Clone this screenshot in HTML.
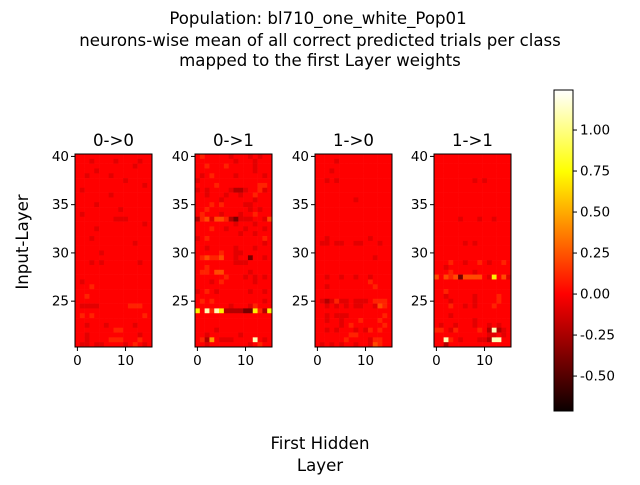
<!DOCTYPE html>
<html><head><meta charset="utf-8"><style>
body{margin:0;background:#fff;}
svg text{font-family:"DejaVu Sans","Liberation Sans",sans-serif;fill:#000;}
</style></head><body>
<svg id="fig" width="640" height="480" xmlns="http://www.w3.org/2000/svg">
<defs><linearGradient id="hot" x1="0" y1="1" x2="0" y2="0">
<stop offset="0" stop-color="#0b0000"/><stop offset="0.365" stop-color="#ff0000"/>
<stop offset="0.746" stop-color="#ffff00"/><stop offset="1" stop-color="#ffffff"/></linearGradient></defs>
<g font-size="16.6" text-anchor="middle">
<text x="318" y="24">Population: bl710_one_white_Pop01</text>
<text x="320" y="46">neurons-wise mean of all correct predicted trials per class</text>
<text x="320" y="66">mapped to the first Layer weights</text>
</g>
<text font-size="16.6" text-anchor="middle" transform="translate(28,242) rotate(-90)">Input-Layer</text>
<g font-size="16.6" text-anchor="middle">
<text x="320" y="449">First Hidden</text><text x="320" y="471">Layer</text></g>
<g id="panels"></g>
<g id="cbar"></g>
</svg>
<script>
const panelTitles=["0->0","0->1","1->0","1->1"];
const levelValues=[-0.6,-0.4,-0.22,-0.08,0,0.1,0.22,0.45,0.7,1.1];
const xTicks=[0,10];
const yTicks=[40,35,30,25];
const cbarTicks=[1.00,0.75,0.50,0.25,0.00,-0.25,-0.50];
const dataA=["4444444444444444","4443444434444344","4444444444443444","4444344444444444","4434444344444444","4444444444344444","4444444444444434","4344444444444444","4444444344444444","4444444444444444","4444344444444444","4444444443444444","4344444444444444","4444444433344444","4444444444444434","4444344444444444","4444444444444444","4443444444444444","4444444444443444","4444444444444444","4444434444444444","4444444444444444","4443434444444344","4444444444444444","4444444444444444","4444444444444444","4344444444444444","4445444444444444","4444444444444444","4454444444444444","4444444444444444","4333344444455544","4444444444444444","4545444444444454","4444444444444444","4434443444443444","4444444455444444","4434444444444344","4434444555444544","4334334444345434"];
const dataB=["4544444344434344","4444444434443444","4454445444443444","4444444444443444","4345444434444434","3444444444444444","4444544444444554","3434444322344534","4434443443445444","4444434444443444","4445454444334444","4454444444434344","4544434443445444","2563665213334436","4444444434443444","4445443444344434","4444444443443444","3454444444444454","4444444444444434","4434444434443444","4444454433444444","4565564434414434","4444444433344444","4454444444444444","4554664444434444","4444445444343434","4443454444443444","4444444444444444","3454344444434434","4444444444444444","4545444444444434","4444444344435444","8495982222118528","4444444444444444","4444444444444444","4444444444444444","4444344444444444","4434444443444444","4527433344449434","4434444444434544"];
const dataC=["4444444444444444","4444344444444444","4444444444444444","4443444444444444","4444444444444444","4434344444444444","4444444444444444","4444444444444444","4444444444444444","4444444434444444","4444444444444444","4444444444444444","4444444444444444","4444444444444444","4444444444444444","4444444444444444","4444444444444444","4434444444434444","4334334433444344","4444444444444444","4444444444444444","4444444444443444","4444444444444444","4444444444444444","4444444444444444","4434434434434444","4444444444454444","4434444444445444","4444444444444444","4444444444444444","4323533433345554","4434343433443654","4444444444444444","4434333444444454","4434434445444544","4444434544444454","4434344434354544","4444444554444444","4444445444435544","4343434434436544"];
const dataD=["4444444444444444","4444444444444444","4444444444444444","4444444444444444","4444444444444444","4444444434344444","4444444444444444","4444444444444444","4444444444444444","4444444444444444","4444444444444444","4444444444444444","4444444444444444","4444434443443444","4444444444444444","4444444444444444","4444444444444444","4444444444444444","4444443434444444","4444444444444444","4444444444444444","4444444444444444","4445443445434454","4434444444444444","4445444434444444","6465616666438463","4444444444444444","4444444444444444","4454444444444444","4434444434444544","4443444434444544","4445443434445444","4444444444444444","4443444444444444","4444444434444444","4344344434434344","5543544445429234","4444444444433434","4495434443329944","4424444444444444"];
const allData=[dataA,dataB,dataC,dataD];
const panelLeft=[75,195,315,434], panelW=77, topY=154, bottomY=347;
const vmin=-0.713, vmax=1.244;
function hot(v){let t=(v-vmin)/(vmax-vmin);t=Math.max(0,Math.min(1,t));
 let r=Math.min(1,t/0.365),g=Math.max(0,Math.min(1,(t-0.365)/0.381)),b=Math.max(0,(t-0.746)/0.254);
 r=0.0416+(1-0.0416)*r;return `rgb(${Math.round(r*255)},${Math.round(g*255)},${Math.round(Math.min(1,b)*255)})`;}
const ns="http://www.w3.org/2000/svg";
function mk(tag,attrs,parent){const e=document.createElementNS(ns,tag);for(const k in attrs)e.setAttribute(k,attrs[k]);parent.appendChild(e);return e;}
const ymin=20.25,ymax=40.25;
function yS(v){return bottomY-(v-ymin)/(ymax-ymin)*(bottomY-topY);}
const P=document.getElementById('panels');
allData.forEach((rows,p)=>{
 const L=panelLeft[p];const xS=v=>L+(v+0.5)/16*panelW;
 const g=mk('g',{},P);
 
 
 rows.forEach((row,ri)=>{const yv=ymax-ri*0.5;
  for(let c=0;c<16;c++){const v=levelValues[+row[c]];
   const r=mk('rect',{x:xS(c-0.5),y:yS(yv),width:xS(c+0.5)-xS(c-0.5)+0.3,height:yS(yv-0.5)-yS(yv)+0.3,fill:hot(v)},g);
   
   }});
 mk('rect',{x:L,y:topY,width:panelW,height:bottomY-topY,fill:'none',stroke:'#000','stroke-width':1},g);
 const t=mk('text',{x:L+panelW/2,y:146,'font-size':16.6,'text-anchor':'middle'},g);t.textContent=panelTitles[p];
 
 
 xTicks.forEach(v=>{mk('line',{x1:xS(v),x2:xS(v),y1:bottomY,y2:bottomY+4,stroke:'#000'},g);
  const tx=mk('text',{x:xS(v),y:bottomY+18,'font-size':13.5,'text-anchor':'middle'},g);tx.textContent=v;
  
  });
 yTicks.forEach(v=>{mk('line',{x1:L-4,x2:L,y1:yS(v),y2:yS(v),stroke:'#000'},g);
  const ty=mk('text',{x:L-6,y:yS(v)+4.5,'font-size':13.5,'text-anchor':'end'},g);ty.textContent=v;
  
  });
});
const C=document.getElementById('cbar');const cT=90,cB=411,cL=554,cW=19;
mk('rect',{x:cL,y:cT,width:cW,height:cB-cT,fill:'url(#hot)',stroke:'#000','stroke-width':1},C);
const cS=v=>cB-(v-vmin)/(vmax-vmin)*(cB-cT);
cbarTicks.forEach(v=>{mk('line',{x1:cL+cW,x2:cL+cW+4,y1:cS(v),y2:cS(v),stroke:'#000'},C);
 const t=mk('text',{x:cL+cW+7,y:cS(v)+4.5,'font-size':13.5},C);t.textContent=v.toFixed(2);
 
 });
</script>
</body></html>
